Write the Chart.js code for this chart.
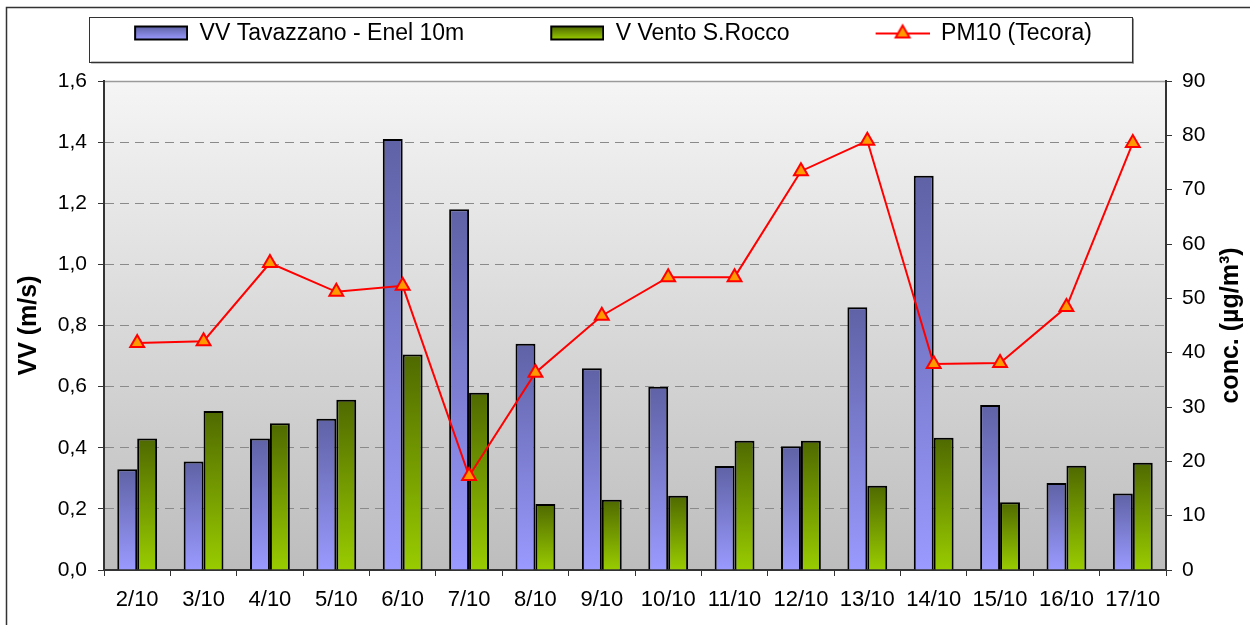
<!DOCTYPE html>
<html>
<head>
<meta charset="utf-8">
<title>VV - PM10</title>
<script src="https://cdn.jsdelivr.net/npm/chart.js@4.4.1/dist/chart.umd.min.js"></script>
<style>
  html, body { margin: 0; padding: 0; background: #fff; }
  #windChart { display: block; }
</style>
</head>
<body>
<canvas id="windChart" width="1250" height="625"></canvas>
<script>
// data
const days = ['2/10', '3/10', '4/10', '5/10', '6/10', '7/10', '8/10', '9/10',
  '10/10', '11/10', '12/10', '13/10', '14/10', '15/10', '16/10', '17/10'];
const vvTavazzano = [0.33, 0.355, 0.43, 0.495, 1.41, 1.18, 0.74, 0.66,
  0.60, 0.34, 0.405, 0.86, 1.29, 0.54, 0.285, 0.25];
const vVentoRocco = [0.43, 0.52, 0.48, 0.557, 0.705, 0.58, 0.216, 0.23,
  0.243, 0.423, 0.423, 0.276, 0.433, 0.222, 0.341, 0.351];
const pm10Tecora = [41.8, 42.1, 56.5, 51.2, 52.3, 17.3, 36.3, 46.8,
  53.9, 53.9, 73.4, 79.0, 37.9, 38.1, 48.4, 78.6];
const seriesNames = ['VV Tavazzano - Enel 10m', 'V Vento S.Rocco', 'PM10 (Tecora)'];
const leftTitle = 'VV (m/s)';
const rightTitle = 'conc. (µg/m³)';

const FONT = "'Liberation Sans', Arial, sans-serif";
Chart.defaults.font.family = FONT;
Chart.defaults.color = '#000';

const BLUE = ['#5f62a5', '#9a9aff'];
const GREEN = ['#4f6900', '#99cc00'];
const LEGEND_GAP = 86;

function barFill(colors) {
  return (ctx) => {
    const chart = ctx.chart;
    if (!chart.chartArea || ctx.type !== 'data') return colors[1];
    const y = chart.scales.y;
    const top = y.getPixelForValue(ctx.raw);
    const bottom = y.getPixelForValue(0);
    const g = chart.ctx.createLinearGradient(0, top, 0, bottom);
    g.addColorStop(0, colors[0]);
    g.addColorStop(1, colors[1]);
    return g;
  };
}

// legend markers: transparent gap on the left, marker on the right
function boxMark(colors) {
  const c = document.createElement('canvas');
  c.width = LEGEND_GAP + 54;
  c.height = 24;
  const x = c.getContext('2d');
  const g = x.createLinearGradient(0, 5, 0, 18);
  g.addColorStop(0, colors[0]);
  g.addColorStop(1, colors[1]);
  x.fillStyle = g;
  x.fillRect(LEGEND_GAP + 1, 5, 52, 13);
  x.strokeStyle = '#000';
  x.lineWidth = 2;
  x.strokeRect(LEGEND_GAP + 1, 5, 52, 13);
  return c;
}

function lineMark() {
  const c = document.createElement('canvas');
  c.width = LEGEND_GAP + 54;
  c.height = 24;
  const x = c.getContext('2d');
  const cx = LEGEND_GAP + 27, cy = 12, r = 8;
  x.strokeStyle = '#ff0000';
  x.lineWidth = 2;
  x.beginPath();
  x.moveTo(LEGEND_GAP, cy);
  x.lineTo(LEGEND_GAP + 54, cy);
  x.stroke();
  x.beginPath();
  x.moveTo(cx, cy - r);
  x.lineTo(cx + r * 0.866, cy + r / 2);
  x.lineTo(cx - r * 0.866, cy + r / 2);
  x.closePath();
  x.fillStyle = '#ff9900';
  x.fill();
  x.stroke();
  return c;
}

const legendMarks = [boxMark(BLUE), boxMark(GREEN), lineMark()];

const legendSpacing = {
  id: 'legendSpacing',
  beforeInit(chart) {
    const fit = chart.legend.fit;
    chart.legend.fit = function () {
      fit.call(this);
      this.height += 26;
      this.lineWidths[0] += 110;
    };
  }
};

const chartDecor = {
  id: 'chartDecor',
  beforeDraw(chart) {
    const { ctx, chartArea: a } = chart;
    ctx.save();
    const g = ctx.createLinearGradient(0, a.top, 0, a.bottom);
    g.addColorStop(0, '#f5f5f5');
    g.addColorStop(1, '#bdbdbd');
    ctx.fillStyle = g;
    ctx.fillRect(a.left, a.top, a.right - a.left, a.bottom - a.top);
    ctx.strokeStyle = '#9a9a9a';
    ctx.lineWidth = 1.5;
    ctx.beginPath();
    ctx.moveTo(a.left, a.top + 0.5);
    ctx.lineTo(a.right, a.top + 0.5);
    ctx.stroke();
    ctx.restore();
  },
  afterDraw(chart) {
    const { ctx, chartArea: a } = chart;
    ctx.save();
    // outer frame
    ctx.strokeStyle = '#333';
    ctx.lineWidth = 1.5;
    ctx.beginPath();
    ctx.moveTo(6.5, chart.height);
    ctx.lineTo(6.5, 7.5);
    ctx.lineTo(chart.width, 7.5);
    ctx.stroke();

    // legend frame
    const boxes = chart.legend.legendHitBoxes;
    if (boxes && boxes.length) {
      const first = boxes[0], last = boxes[boxes.length - 1];
      const cy = first.top + first.height / 2;
      const left = first.left + LEGEND_GAP - 45;
      const right = last.left + last.width + 40;
      const top = cy - 17, bottom = cy + 28;
      ctx.fillStyle = '#8a8a8a';
      ctx.fillRect(left + 2, bottom, right - left, 2);
      ctx.fillRect(right, top + 2, 2, bottom - top);
      ctx.strokeStyle = '#333';
      ctx.lineWidth = 1;
      ctx.strokeRect(Math.round(left) + 0.5, Math.round(top) + 0.5, Math.round(right - left), Math.round(bottom - top));
    }

    // right axis title, reading bottom to top
    const y1 = chart.scales.y1;
    ctx.translate(y1.left + 65, (a.top + a.bottom) / 2);
    ctx.rotate(-Math.PI / 2);
    ctx.font = 'bold 25px ' + FONT;
    ctx.fillStyle = '#000';
    ctx.textAlign = 'center';
    ctx.textBaseline = 'middle';
    ctx.fillText(rightTitle, 0, 0);
    ctx.restore();
  }
};

new Chart(document.getElementById('windChart'), {
  type: 'bar',
  data: {
    labels: days,
    datasets: [
      {
        label: seriesNames[0],
        data: vvTavazzano,
        yAxisID: 'y',
        backgroundColor: barFill(BLUE),
        borderColor: '#000',
        borderWidth: 2,
        categoryPercentage: 0.6,
        barPercentage: 1.0,
        order: 1
      },
      {
        label: seriesNames[1],
        data: vVentoRocco,
        yAxisID: 'y',
        backgroundColor: barFill(GREEN),
        borderColor: '#000',
        borderWidth: 2,
        categoryPercentage: 0.6,
        barPercentage: 1.0,
        order: 1
      },
      {
        type: 'line',
        label: seriesNames[2],
        data: pm10Tecora,
        yAxisID: 'y1',
        borderColor: '#ff0000',
        borderWidth: 2,
        tension: 0,
        pointStyle: 'triangle',
        pointRadius: 8,
        pointBackgroundColor: '#ff9900',
        pointBorderColor: '#ff0000',
        pointBorderWidth: 2,
        order: 0
      }
    ]
  },
  options: {
    responsive: false,
    animation: false,
    events: [],
    layout: { padding: { top: 22, left: 0, right: 0, bottom: 0 } },
    plugins: {
      tooltip: { enabled: false },
      legend: {
        position: 'top',
        labels: {
          usePointStyle: true,
          pointStyleWidth: LEGEND_GAP + 54,
          padding: 0,
          color: '#000',
          font: { size: 23 },
          generateLabels: () => seriesNames.map((name, i) => ({
            text: name,
            pointStyle: legendMarks[i],
            fillStyle: 'rgba(0,0,0,0)',
            strokeStyle: 'rgba(0,0,0,0)',
            lineWidth: 1,
            fontColor: '#000',
            hidden: false,
            datasetIndex: i
          }))
        }
      }
    },
    scales: {
      x: {
        offset: true,
        afterFit: (s) => { s.height = 55; },
        grid: {
          offset: true,
          drawOnChartArea: false,
          tickLength: 6,
          tickColor: '#333',
          tickWidth: 1
        },
        border: { color: '#333', width: 2 },
        ticks: {
          font: { size: 22 },
          padding: 11,
          maxRotation: 0,
          autoSkip: false
        }
      },
      y: {
        position: 'left',
        min: 0,
        max: 1.6,
        afterFit: (s) => { s.width = 104; },
        ticks: {
          stepSize: 0.2,
          font: { size: 21 },
          padding: 11,
          callback: (v) => v.toFixed(1).replace('.', ',')
        },
        grid: {
          color: (c) => (c.tick && c.tick.value > 1.55) ? 'rgba(0,0,0,0)' : '#8a8a8a',
          lineWidth: 1,
          tickLength: 6,
          tickColor: '#333',
          tickWidth: 1
        },
        border: { color: '#333', width: 2, dash: [9, 6] },
        title: {
          display: true,
          text: leftTitle,
          font: { size: 25, weight: 'bold' },
          padding: { top: 14, bottom: 0 }
        }
      },
      y1: {
        position: 'right',
        min: 0,
        max: 90,
        afterFit: (s) => { s.width = 84; },
        ticks: {
          stepSize: 10,
          font: { size: 21 },
          padding: 10
        },
        grid: {
          drawOnChartArea: false,
          tickLength: 6,
          tickColor: '#333',
          tickWidth: 1
        },
        border: { color: '#333', width: 2 }
      }
    }
  },
  plugins: [legendSpacing, chartDecor]
});
</script>
</body>
</html>
